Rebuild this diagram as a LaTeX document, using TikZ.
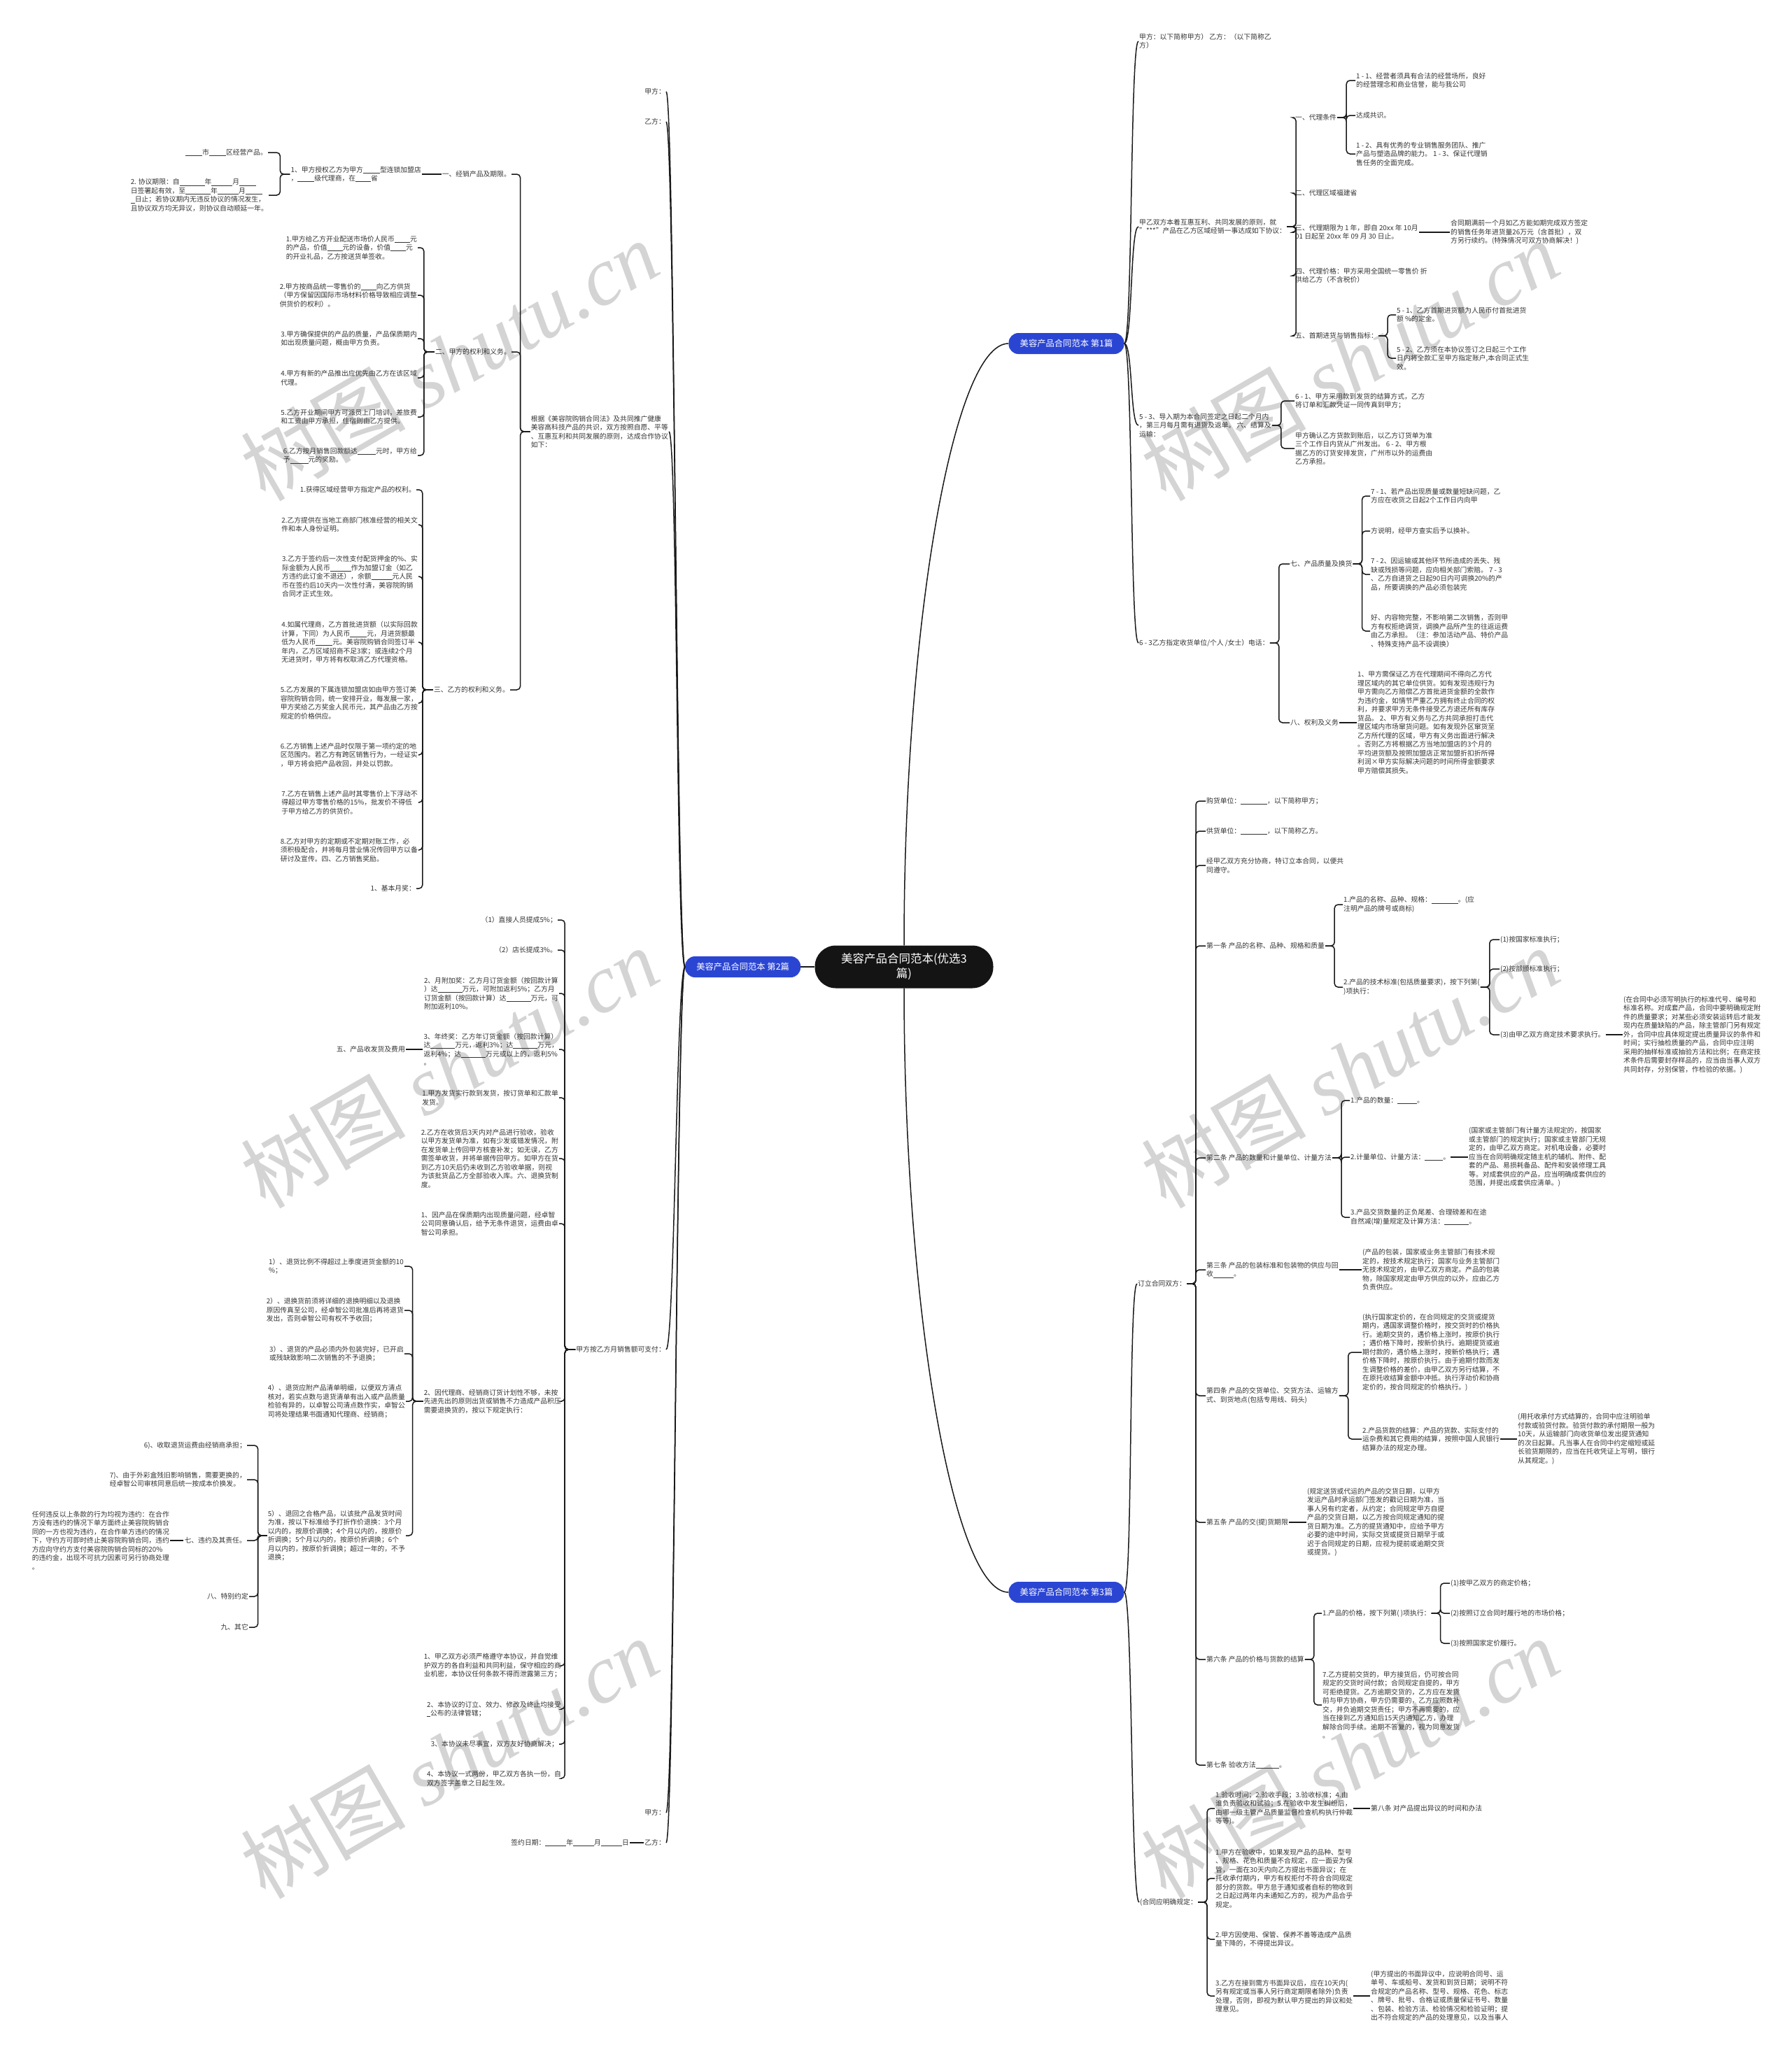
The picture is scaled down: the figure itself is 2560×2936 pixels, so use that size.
\documentclass[tikz,border=0pt]{standalone}
\usepackage{fontspec}
\setmainfont{Noto Sans CJK SC}
\newfontfamily\wmfont{Liberation Serif}
\usetikzlibrary{positioning}

\definecolor{rootblack}{HTML}{141414}
\definecolor{branchblue}{HTML}{2B45D3}
\definecolor{wmgray}{HTML}{D4D4D4}
\newcommand{\fillin}[1]{\rule[-1.2pt]{#1}{0.5pt}}

\begin{document}
\begin{tikzpicture}[
        x=1pt, y=-1pt,
        font=\fontsize{9.8}{12.5}\selectfont,
        % Styles
        root_pill/.style={fill=rootblack, text=white, rounded corners=30pt, minimum width=255pt, minimum height=61pt, align=center, font=\fontsize{16.5}{21}\selectfont},
        branch_pill/.style={fill=branchblue, text=white, rounded corners=14pt, minimum width=165pt, minimum height=30pt, font=\fontsize{12.3}{14}\selectfont},
        leaf/.style={align=left, inner sep=1pt, text=black!80},
        leaf_r/.style={leaf, anchor=west},
        leaf_l/.style={leaf, anchor=east},
        link/.style={draw=black!90, line width=1.5pt, rounded corners=5pt},
        wm_text/.style={text=wmgray, rotate=30, font=\fontsize{118}{118}\selectfont}
    ]
    \useasboundingbox (0,0) rectangle (2560,2936);

    % Watermarks
    \foreach \wx/\wy [count=\i] in {642/515, 642/1526, 642/2513, 1929/515, 1929/1526, 1929/2513}
        \node[wm_text] (wm\i) at (\wx,\wy) {树图 {\wmfont\itshape shutu.cn}};

    % Root and branches
    \node[root_pill] (root) at (1292,1382) {美容产品合同范本(优选3\\篇)};
    \node[branch_pill] (b1) at (1524,491) {美容产品合同范本 第1篇};
    \node[branch_pill, left=20pt of root] (b2) {美容产品合同范本 第2篇};
    \node[branch_pill] (b3) at (1524,2276) {美容产品合同范本 第3篇};

    \draw[link] (root.north) .. controls +(0,-450) and +(-80,0) .. (b1.west);
    \draw[link] (root.south) .. controls +(0,450) and +(-80,0) .. (b3.west);
    \draw[link] (root.west) -- (b2.east);

    % Branch 1 (right, top)
    \node[leaf_r] (p1_party) at (1627,59) {甲方：以下简称甲方） 乙方：（以下简称乙\\方）};
    \node[leaf_r] (p1_intro) at (1627,324) {甲乙双方本着互惠互利、共同发展的原则，就\\"***"产品在乙方区域经销一事达成如下协议：};
    \node[leaf_r] (p1_c1) at (1850,168) {一、代理条件};
    \node[leaf_r] (p1_c1a) at (1937,115) {1 - 1、经营者须具有合法的经营场所，良好\\的经营理念和商业信誉，能与我公司};
    \node[leaf_r] (p1_c1b) at (1937,165) {达成共识。};
    \node[leaf_r] (p1_c1c) at (1937,220) {1 - 2、具有优秀的专业销售服务团队、推广\\产品与塑造品牌的能力。 1 - 3、保证代理销\\售任务的全面完成。};
    \node[leaf_r] (p1_c2) at (1850,276) {二、代理区域福建省};
    \node[leaf_r] (p1_c3) at (1850,332) {三、代理期限为 1 年，即自 20xx 年 10月\\01 日起至 20xx 年 09 月 30 日止。};
    \node[leaf_r] (p1_c3a) at (2072,332) {合同期满前一个月如乙方能如期完成双方签定\\的销售任务年进货量26万元（含首批），双\\方另行续约。(特殊情况可双方协商解决！)};
    \node[leaf_r] (p1_c4) at (1850,394) {四、代理价格：甲方采用全国统一零售价 折\\供给乙方（不含税价）};
    \node[leaf_r] (p1_c5) at (1850,480) {五、首期进货与销售指标：};
    \node[leaf_r] (p1_c5a) at (1995,450) {5 - 1、乙方首期进货额为人民币付首批进货\\额 \%的定金。};
    \node[leaf_r] (p1_c5b) at (1995,512) {5 - 2、乙方须在本协议签订之日起三个工作\\日内将全款汇至甲方指定账户,本合同正式生\\效。};
    \node[leaf_r] (p1_pay) at (1627,608) {5 - 3、导入期为本合同签定之日起二个月内\\，第三月每月需有进货及返单。 六、结算及\\运输：};
    \node[leaf_r] (p1_pay_a) at (1850,573) {6 - 1、甲方采用款到发货的结算方式，乙方\\将订单和汇款凭证一同传真到甲方；};
    \node[leaf_r] (p1_pay_b) at (1850,641) {甲方确认乙方货款到账后，以乙方订货单为准\\三个工作日内货从广州发出。 6 - 2、甲方根\\据乙方的订货安排发货，广州市以外的运费由\\乙方承担。};
    \node[leaf_r] (p1_recv) at (1627,919) {6 - 3乙方指定收货单位/个人 /女士）电话：};
    \node[leaf_r] (p1_q) at (1843,806) {七、产品质量及换货};
    \node[leaf_r] (p1_q1) at (1958,709) {7 - 1、若产品出现质量或数量短缺问题，乙\\方应在收货之日起2个工作日内向甲};
    \node[leaf_r] (p1_q2) at (1958,759) {方说明，经甲方查实后予以换补。};
    \node[leaf_r] (p1_q3) at (1958,821) {7 - 2、因运输或其他环节所造成的丢失、残\\缺或残损等问题，应向相关部门索赔。 7 - 3\\、乙方自进货之日起90日内可调换20\%的产\\品，所要调换的产品必须包装完};
    \node[leaf_r] (p1_q4) at (1958,902) {好、内容物完整，不影响第二次销售，否则甲\\方有权拒绝调货，调换产品所产生的往返运费\\由乙方承担。（注：参加活动产品、特价产品\\、特殊支持产品不设调换）};
    \node[leaf_r] (p1_r) at (1843,1033) {八、权利及义务};
    \node[leaf_r] (p1_r1) at (1939,1033) {1、甲方需保证乙方在代理期间不得向乙方代\\理区域内的其它单位供货。如有发现违规行为\\甲方需向乙方赔偿乙方首批进货金额的全款作\\为违约金，如情节严重乙方拥有终止合同的权\\利，并要求甲方无条件接受乙方退还所有库存\\货品。 2、甲方有义务与乙方共同承担打击代\\理区域内市场窜货问题。如有发现外区窜货至\\乙方所代理的区域，甲方有义务出面进行解决\\。否则乙方将根据乙方当地加盟店的3个月的\\平均进货额及按照加盟店正常加盟折扣折所得\\利润×甲方实际解决问题的时间所得金额要求\\甲方赔偿其损失。};

    \foreach \c in {p1_party, p1_intro, p1_pay, p1_recv}
        \draw[link] (b1.east) .. controls +(12,0) and +(-12,0) .. (\c.west);
    \foreach \c in {p1_c1, p1_c2, p1_c3, p1_c4, p1_c5}
        \draw[link] (p1_intro.east) -- ++(13,0) |- (\c.west);
    \foreach \c in {p1_c1a, p1_c1b, p1_c1c}
        \draw[link] (p1_c1.east) -- ++(13,0) |- (\c.west);
    \draw[link] (p1_c3.east) -- (p1_c3a.west);
    \foreach \c in {p1_c5a, p1_c5b}
        \draw[link] (p1_c5.east) -- ++(13,0) |- (\c.west);
    \foreach \c in {p1_pay_a, p1_pay_b}
        \draw[link] (p1_pay.east) -- ++(13,0) |- (\c.west);
    \foreach \c in {p1_q, p1_r}
        \draw[link] (p1_recv.east) -- ++(13,0) |- (\c.west);
    \foreach \c in {p1_q1, p1_q2, p1_q3, p1_q4}
        \draw[link] (p1_q.east) -- ++(13,0) |- (\c.west);
    \draw[link] (p1_r.east) -- (p1_r1.west);

    % Branch 3 (right, bottom)
    \node[leaf_r] (p3_parties) at (1625,1835) {订立合同双方：};
    \node[leaf_r] (p3_buyer) at (1723,1145) {购货单位：\fillin{38pt}，以下简称甲方；};
    \node[leaf_r] (p3_seller) at (1723,1188) {供货单位：\fillin{38pt}，以下简称乙方。};
    \node[leaf_r] (p3_agree) at (1723,1237) {经甲乙双方充分协商，特订立本合同，以便共\\同遵守。};
    \node[leaf_r] (p3_a1) at (1723,1352) {第一条 产品的名称、品种、规格和质量};
    \node[leaf_r] (p3_a1_1) at (1919,1293) {1.产品的名称、品种、规格：\fillin{38pt}。(应\\注明产品的牌号或商标)};
    \node[leaf_r] (p3_a1_2) at (1919,1411) {2.产品的技术标准(包括质量要求)，按下列第(\\ )项执行：};
    \node[leaf_r] (p3_a1_2a) at (2143,1343) {(1)按国家标准执行；};
    \node[leaf_r] (p3_a1_2b) at (2143,1385) {(2)按部颁标准执行；};
    \node[leaf_r] (p3_a1_2c) at (2143,1479) {(3)由甲乙双方商定技术要求执行。};
    \node[leaf_r] (p3_a1_2cn) at (2319,1479) {(在合同中必须写明执行的标准代号、编号和\\标准名称。对成套产品，合同中要明确规定附\\件的质量要求；对某些必须安装运转后才能发\\现内在质量缺陷的产品，除主管部门另有规定\\外，合同中应具体规定提出质量异议的条件和\\时间；实行抽检质量的产品，合同中应注明\\采用的抽样标准或抽验方法和比例；在商定技\\术条件后需要封存样品的，应当由当事人双方\\共同封存，分别保管，作检验的依据。)};
    \node[leaf_r] (p3_a2) at (1723,1655) {第二条 产品的数量和计量单位、计量方法};
    \node[leaf_r] (p3_a2_1) at (1929,1573) {1.产品的数量：\fillin{28pt}。};
    \node[leaf_r] (p3_a2_2) at (1929,1654) {2.计量单位、计量方法：\fillin{26pt}。};
    \node[leaf_r] (p3_a2_2n) at (2098,1654) {(国家或主管部门有计量方法规定的，按国家\\或主管部门的规定执行；国家或主管部门无规\\定的，由甲乙双方商定。对机电设备，必要时\\应当在合同明确规定随主机的辅机、附件、配\\套的产品、易损耗备品、配件和安装修理工具\\等。对成套供应的产品，应当明确成套供应的\\范围，并提出成套供应清单。)};
    \node[leaf_r] (p3_a2_3) at (1929,1740) {3.产品交货数量的正负尾差、合理磅差和在途\\自然减(增)量规定及计算方法：\fillin{35pt}。};
    \node[leaf_r] (p3_a3) at (1723,1815) {第三条 产品的包装标准和包装物的供应与回\\收\fillin{29pt}。};
    \node[leaf_r] (p3_a3n) at (1946,1815) {(产品的包装，国家或业务主管部门有技术规\\定的，按技术规定执行；国家与业务主管部门\\无技术规定的，由甲乙双方商定。产品的包装\\物，除国家规定由甲方供应的以外，应由乙方\\负责供应。};
    \node[leaf_r] (p3_a4) at (1723,1995) {第四条 产品的交货单位、交货方法、运输方\\式、到货地点(包括专用线、码头)};
    \node[leaf_r] (p3_a4_1) at (1946,1933) {(执行国家定价的，在合同规定的交货或提货\\期内，遇国家调整价格时，按交货时的价格执\\行。逾期交货的，遇价格上涨时，按原价执行\\；遇价格下降时，按新价执行。逾期提货或逾\\期付款的，遇价格上涨时，按新价格执行；遇\\价格下降时，按原价执行。由于逾期付款而发\\生调整价格的差价，由甲乙双方另行结算，不\\在原托收结算金额中冲抵。执行浮动价和协商\\定价的，按合同规定的价格执行。)};
    \node[leaf_r] (p3_a4_2) at (1946,2057) {2.产品货款的结算：产品的货款、实际支付的\\运杂费和其它费用的结算，按照中国人民银行\\结算办法的规定办理。};
    \node[leaf_r] (p3_a4_2n) at (2168,2057) {(用托收承付方式结算的，合同中应注明验单\\付款或验货付款。验货付款的承付期限一般为\\10天，从运输部门向收货单位发出提货通知\\的次日起算。凡当事人在合同中约定缩短或延\\长验货期限的，应当在托收凭证上写明，银行\\从其规定。)};
    \node[leaf_r] (p3_a5) at (1723,2176) {第五条 产品的交(提)货期限};
    \node[leaf_r] (p3_a5n) at (1867,2176) {(规定送货或代运的产品的交货日期，以甲方\\发运产品时承运部门签发的戳记日期为准，当\\事人另有约定者，从约定；合同规定甲方自提\\产品的交货日期，以乙方按合同规定通知的提\\货日期为准。乙方的提货通知中，应给予甲方\\必要的途中时间，实际交货或提货日期早于或\\迟于合同规定的日期，应视为提前或逾期交货\\或提货。)};
    \node[leaf_r] (p3_a6) at (1723,2372) {第六条 产品的价格与货款的结算};
    \node[leaf_r] (p3_a6_1) at (1889,2306) {1.产品的价格，按下列第( )项执行：};
    \node[leaf_r] (p3_a6_1a) at (2072,2263) {(1)按甲乙双方的商定价格；};
    \node[leaf_r] (p3_a6_1b) at (2072,2306) {(2)按照订立合同时履行地的市场价格；};
    \node[leaf_r] (p3_a6_1c) at (2072,2349) {(3)按照国家定价履行。};
    \node[leaf_r] (p3_a6_7) at (1889,2437) {7.乙方提前交货的，甲方接货后，仍可按合同\\规定的交货时间付款；合同规定自提的，甲方\\可拒绝提货。乙方逾期交货的，乙方应在发货\\前与甲方协商，甲方仍需要的，乙方应照数补\\交，并负逾期交货责任；甲方不再需要的，应\\当在接到乙方通知后15天内通知乙方，办理\\解除合同手续。逾期不答复的，视为同意发货\\。};
    \node[leaf_r] (p3_a7) at (1723,2523) {第七条 验收方法\fillin{33pt}。};
    \node[leaf_r] (p3_rule) at (1628,2719) {(合同应明确规定：};
    \node[leaf_r] (p3_r1) at (1736,2585) {1.验收时间；2.验收手段；3.验收标准；4.由\\谁负责验收和试验；5.在验收中发生纠纷后，\\由哪一级主管产品质量监督检查机构执行仲裁\\等等)。};
    \node[leaf_r] (p3_r1a) at (1958,2585) {第八条 对产品提出异议的时间和办法};
    \node[leaf_r] (p3_r2) at (1736,2685) {1.甲方在验收中，如果发现产品的品种、型号\\、规格、花色和质量不合规定，应一面妥为保\\管，一面在30天内向乙方提出书面异议；在\\托收承付期内，甲方有权拒付不符合合同规定\\部分的货款。甲方怠于通知或者自标的物收到\\之日起过两年内未通知乙方的，视为产品合乎\\规定。};
    \node[leaf_r] (p3_r3) at (1736,2772) {2.甲方因使用、保管、保养不善等造成产品质\\量下降的，不得提出异议。};
    \node[leaf_r] (p3_r4) at (1736,2853) {3.乙方在接到需方书面异议后，应在10天内(\\另有规定或当事人另行商定期限者除外)负责\\处理，否则，即视为默认甲方提出的异议和处\\理意见。};
    \node[leaf_r] (p3_r4n) at (1958,2853) {(甲方提出的书面异议中，应说明合同号、运\\单号、车或船号、发货和到货日期；说明不符\\合规定的产品名称、型号、规格、花色、标志\\、牌号、批号、合格证或质量保证书号、数量\\、包装、检验方法、检验情况和检验证明；提\\出不符合规定的产品的处理意见，以及当事人};

    \foreach \c in {p3_parties, p3_rule}
        \draw[link] (b3.east) .. controls +(12,0) and +(-12,0) .. (\c.west);
    \foreach \c in {p3_buyer, p3_seller, p3_agree, p3_a1, p3_a2, p3_a3, p3_a4, p3_a5, p3_a6, p3_a7}
        \draw[link] (p3_parties.east) -- ++(13,0) |- (\c.west);
    \foreach \c in {p3_a1_1, p3_a1_2}
        \draw[link] (p3_a1.east) -- ++(13,0) |- (\c.west);
    \foreach \c in {p3_a1_2a, p3_a1_2b, p3_a1_2c}
        \draw[link] (p3_a1_2.east) -- ++(13,0) |- (\c.west);
    \draw[link] (p3_a1_2c.east) -- (p3_a1_2cn.west);
    \foreach \c in {p3_a2_1, p3_a2_2, p3_a2_3}
        \draw[link] (p3_a2.east) -- ++(13,0) |- (\c.west);
    \draw[link] (p3_a2_2.east) -- (p3_a2_2n.west);
    \draw[link] (p3_a3.east) -- (p3_a3n.west);
    \foreach \c in {p3_a4_1, p3_a4_2}
        \draw[link] (p3_a4.east) -- ++(13,0) |- (\c.west);
    \draw[link] (p3_a4_2.east) -- (p3_a4_2n.west);
    \draw[link] (p3_a5.east) -- (p3_a5n.west);
    \foreach \c in {p3_a6_1, p3_a6_7}
        \draw[link] (p3_a6.east) -- ++(13,0) |- (\c.west);
    \foreach \c in {p3_a6_1a, p3_a6_1b, p3_a6_1c}
        \draw[link] (p3_a6_1.east) -- ++(13,0) |- (\c.west);
    \foreach \c in {p3_r1, p3_r2, p3_r3, p3_r4}
        \draw[link] (p3_rule.east) -- ++(13,0) |- (\c.west);
    \draw[link] (p3_r1.east) -- (p3_r1a.west);
    \draw[link] (p3_r4.east) -- (p3_r4n.west);

    % Branch 2 (left)
    \node[leaf_l] (p2_a) at (952,131) {甲方：};
    \node[leaf_l] (p2_b) at (952,174) {乙方：};
    \node[leaf_l] (p2_intro) at (956,617) {根据《美容院购销合同法》及共同推广健康\\美容高科技产品的共识，双方按照自愿、平等\\、互惠互利和共同发展的原则，达成合作协议\\如下：};
    \node[leaf_l] (p2_i1) at (731,249) {一、经销产品及期限。};
    \node[leaf_l] (p2_i1a) at (603,249) {1、甲方授权乙方为甲方\fillin{24pt}型连锁加盟店\\，\fillin{24pt}级代理商，在\fillin{22pt}省};
    \node[leaf_l] (p2_i1a1) at (383,218) {\fillin{24pt}市\fillin{24pt}区经营产品。};
    \node[leaf_l] (p2_i1a2) at (384,279) {2. 协议期限：自\fillin{36pt}年\fillin{30pt}月\fillin{24pt}\\日签署起有效，至\fillin{36pt}年\fillin{30pt}月\fillin{24pt}\\\fillin{6pt}日止；若协议期内无违反协议的情况发生，\\且协议双方均无异议，则协议自动顺延一年。};
    \node[leaf_l] (p2_i2) at (731,503) {二、甲方的权利和义务。};
    \node[leaf_l] (p2_i2_1) at (597,354) {1.甲方给乙方开业配送市场价人民币\fillin{22pt}元\\的产品，价值\fillin{22pt}元的设备，价值\fillin{22pt}元\\的开业礼品，乙方按送货单签收。};
    \node[leaf_l] (p2_i2_2) at (597,422) {2.甲方按商品统一零售价的\fillin{22pt}向乙方供货\\（甲方保留因国际市场材料价格导致相应调整\\供货价的权利）。};
    \node[leaf_l] (p2_i2_3) at (597,484) {3.甲方确保提供的产品的质量，产品保质期内\\如出现质量问题，概由甲方负责。};
    \node[leaf_l] (p2_i2_4) at (597,540) {4.甲方有新的产品推出应优先由乙方在该区域\\代理。};
    \node[leaf_l] (p2_i2_5) at (597,596) {5.乙方开业期间甲方可派员上门培训，差旅费\\和工资由甲方承担，住宿则由乙方提供。};
    \node[leaf_l] (p2_i2_6) at (597,651) {6.乙方按月销售回款额达\fillin{26pt}元时，甲方给\\予\fillin{26pt}元的奖励。};
    \node[leaf_l] (p2_i3) at (729,986) {三、乙方的权利和义务。};
    \node[leaf_l] (p2_i3_1) at (595,700) {1.获得区域经营甲方指定产品的权利。};
    \node[leaf_l] (p2_i3_2) at (598,750) {2.乙方提供在当地工商部门核准经营的相关文\\件和本人身份证明。};
    \node[leaf_l] (p2_i3_3) at (598,824) {3.乙方于签约后一次性支付配货押金的\%、实\\际金额为人民币\fillin{30pt}作为加盟订金（如乙\\方违约此订金不退还），余额\fillin{30pt}元人民\\币在签约后10天内一次性付清，美容院购销\\合同才正式生效。};
    \node[leaf_l] (p2_i3_4) at (598,918) {4.如属代理商，乙方首批进货额（以实际回款\\计算，下同）为人民币\fillin{24pt}元，月进货额最\\低为人民币\fillin{24pt}元。美容院购销合同签订半\\年内，乙方区域招商不足3家；或连续2个月\\无进货时，甲方将有权取消乙方代理资格。};
    \node[leaf_l] (p2_i3_5) at (598,1005) {5.乙方发展的下属连锁加盟店如由甲方签订美\\容院购销合同，统一安排开业，每发展一家，\\甲方奖给乙方奖金人民币元，其产品由乙方按\\规定的价格供应。};
    \node[leaf_l] (p2_i3_6) at (598,1079) {6.乙方销售上述产品时仅限于第一项约定的地\\区范围内。若乙方有跨区销售行为，一经证实\\，甲方将会把产品收回，并处以罚款。};
    \node[leaf_l] (p2_i3_7) at (598,1147) {7.乙方在销售上述产品时其零售价上下浮动不\\得超过甲方零售价格的15\%，批发价不得低\\于甲方给乙方的供货价。};
    \node[leaf_l] (p2_i3_8) at (598,1215) {8.乙方对甲方的定期或不定期对账工作，必\\须积极配合，并将每月营业情况传回甲方以备\\研讨及宣传。四、乙方销售奖励。};
    \node[leaf_l] (p2_i3_9) at (595,1270) {1、基本月奖：};
    \node[leaf_l] (p2_pay) at (952,1929) {甲方按乙方月销售额可支付：};
    \node[leaf_l] (p2_p1) at (797,1315) {（1）直接人员提成5\%；};
    \node[leaf_l] (p2_p2) at (797,1358) {（2）店长提成3\%。};
    \node[leaf_l] (p2_p3) at (799,1420) {2、月附加奖：乙方月订货金额（按回款计算\\）达\fillin{35pt}万元，可附加返利5\%；乙方月\\订货金额（按回款计算）达\fillin{35pt}万元，可\\附加返利10\%。};
    \node[leaf_l] (p2_p4) at (799,1500) {3、年终奖：乙方年订货金额（按回款计算）\\达\fillin{35pt}万元，返利3\%；达\fillin{35pt}万元，\\返利4\%；达\fillin{35pt}万元或以上的，返利5\%\\。};
    \node[leaf_l] (p2_p4a) at (580,1500) {五、产品收发货及费用};
    \node[leaf_l] (p2_p5) at (799,1569) {1.甲方发货实行款到发货，按订货单和汇款单\\发货。};
    \node[leaf_l] (p2_p6) at (799,1656) {2.乙方在收货后3天内对产品进行验收，验收\\以甲方发货单为准，如有少发或错发情况，附\\在发货单上传回甲方核查补发；如无误，乙方\\需签单收货，并将单据传回甲方。如甲方在货\\到乙方10天后仍未收到乙方验收单据，则视\\为该批货品乙方全部验收入库。六、退换货制\\度。};
    \node[leaf_l] (p2_p7) at (799,1749) {1、因产品在保质期内出现质量问题，经卓智\\公司同意确认后，给予无条件退货，运费由卓\\智公司承担。};
    \node[leaf_l] (p2_p8) at (803,2003) {2、因代理商、经销商订货计划性不够，未按\\先进先出的原则出货或销售不力造成产品积压\\需要退换货的，按以下规定执行：};
    \node[leaf_l] (p2_p8_1) at (578,1810) {1）、退货比例不得超过上季度进货金额的10\\\%；};
    \node[leaf_l] (p2_p8_2) at (578,1873) {2）、退换货前须将详细的退换明细以及退换\\原因传真至公司，经卓智公司批准后再将退货\\发出，否则卓智公司有权不予收回；};
    \node[leaf_l] (p2_p8_3) at (578,1935) {3）、退货的产品必须内外包装完好，已开启\\或残缺致影响二次销售的不予退换；};
    \node[leaf_l] (p2_p8_4) at (580,2003) {4）、退货应附产品清单明细，以便双方清点\\核对，若实点数与退货清单有出入或产品质量\\检验有异的，以卓智公司清点数作实，卓智公\\司将处理结果书面通知代理商、经销商；};
    \node[leaf_l] (p2_p8_5) at (580,2195) {5）、退回之合格产品，以该批产品发货时间\\为准，按以下标准给予打折作价退换：3个月\\以内的，按原价调换；4个月以内的，按原价\\折调换；5个月以内的，按原价折调换；6个\\月以内的，按原价折调换；超过一年的，不予\\退换；};
    \node[leaf_l] (p2_p8_5a) at (353,2066) {6)、收取退货运费由经销商承担；};
    \node[leaf_l] (p2_p8_5b) at (353,2115) {7)、由于外彩盒残旧影响销售，需要更换的，\\经卓智公司审核同意后统一按成本价换发。};
    \node[leaf_l] (p2_p8_5c) at (353,2202) {七、违约及其责任。};
    \node[leaf_l] (p2_p8_5ca) at (243,2202) {任何违反以上条款的行为均视为违约：在合作\\方没有违约的情况下单方面终止美容院购销合\\同的一方也视为违约，在合作单方违约的情况\\下，守约方可即时终止美容院购销合同，违约\\方应向守约方支付美容院购销合同标的20\%\\的违约金，出现不可抗力因素可另行协商处理\\。};
    \node[leaf_l] (p2_p8_5d) at (356,2282) {八、特别约定};
    \node[leaf_l] (p2_p8_5e) at (356,2326) {九、其它};
    \node[leaf_l] (p2_p9) at (803,2381) {1、甲乙双方必须严格遵守本协议，并自觉维\\护双方的各自利益和共同利益，保守相应的商\\业机密，本协议任何条款不得而泄露第三方；};
    \node[leaf_l] (p2_p10) at (803,2443) {2、本协议的订立、效力、修改及终止均接受\\\fillin{5pt}公布的法律管辖；};
    \node[leaf_l] (p2_p11) at (799,2493) {3、本协议未尽事宜，双方友好协商解决；};
    \node[leaf_l] (p2_p12) at (803,2542) {4、本协议一式两份，甲乙双方各执一份，自\\双方签字盖章之日起生效。};
    \node[leaf_l] (p2_sa) at (952,2591) {甲方：};
    \node[leaf_l] (p2_sb) at (952,2634) {乙方：};
    \node[leaf_l] (p2_date) at (900,2634) {签约日期：\fillin{30pt}年\fillin{30pt}月\fillin{30pt}日};

    \foreach \c in {p2_a, p2_b, p2_intro, p2_pay, p2_sa, p2_sb}
        \draw[link] (b2.west) .. controls +(-12,0) and +(12,0) .. (\c.east);
    \foreach \c in {p2_i1, p2_i2, p2_i3}
        \draw[link] (p2_intro.west) -- ++(-14,0) |- (\c.east);
    \draw[link] (p2_i1.west) -- (p2_i1a.east);
    \foreach \c in {p2_i1a1, p2_i1a2}
        \draw[link] (p2_i1a.west) -- ++(-14,0) |- (\c.east);
    \foreach \c in {p2_i2_1, p2_i2_2, p2_i2_3, p2_i2_4, p2_i2_5, p2_i2_6}
        \draw[link] (p2_i2.west) -- ++(-15,0) |- (\c.east);
    \foreach \c in {p2_i3_1, p2_i3_2, p2_i3_3, p2_i3_4, p2_i3_5, p2_i3_6, p2_i3_7, p2_i3_8, p2_i3_9}
        \draw[link] (p2_i3.west) -- ++(-15,0) |- (\c.east);
    \foreach \c in {p2_p1, p2_p2, p2_p3, p2_p4, p2_p5, p2_p6, p2_p7, p2_p8, p2_p9, p2_p10, p2_p11, p2_p12}
        \draw[link] (p2_pay.west) -- ++(-15,0) |- (\c.east);
    \draw[link] (p2_p4.west) -- (p2_p4a.east);
    \foreach \c in {p2_p8_1, p2_p8_2, p2_p8_3, p2_p8_4, p2_p8_5}
        \draw[link] (p2_p8.west) -- ++(-15,0) |- (\c.east);
    \foreach \c in {p2_p8_5a, p2_p8_5b, p2_p8_5c, p2_p8_5d, p2_p8_5e}
        \draw[link] (p2_p8_5.west) -- ++(-13,0) |- (\c.east);
    \draw[link] (p2_p8_5c.west) -- (p2_p8_5ca.east);
    \draw[link] (p2_sb.west) -- (p2_date.east);

\end{tikzpicture}
\end{document}
